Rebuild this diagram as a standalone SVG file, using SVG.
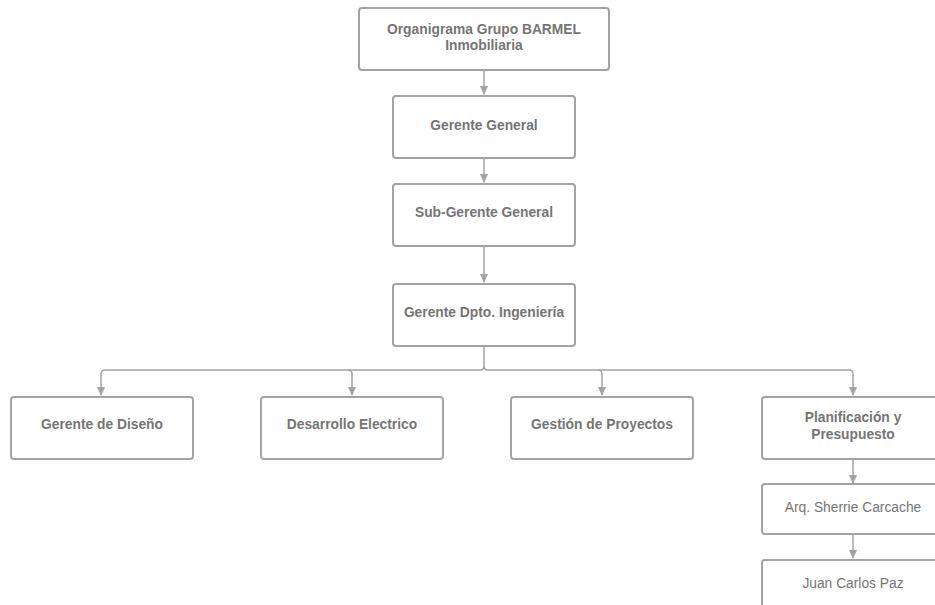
<svg xmlns="http://www.w3.org/2000/svg" width="935" height="605" viewBox="0 0 935 605">
<style>
.box{fill:#fff;stroke:#a3a3a3;stroke-width:2}
.t{font-family:"Liberation Sans",Arial,sans-serif;font-size:13.8px;fill:#757575;text-anchor:middle}
.b{font-weight:bold}
.c{fill:none;stroke:#a3a3a3;stroke-width:1.5}
</style>
<defs>
<marker id="ah" markerWidth="10" markerHeight="10" refX="8" refY="5" orient="auto" markerUnits="userSpaceOnUse">
<path d="M0,1 L9,5 L0,9 z" fill="#a3a3a3"/>
</marker>
</defs>
<rect width="935" height="605" fill="#fff"/>
<g id="connectors">
<path class="c" d="M484,70 V94" marker-end="url(#ah)"/>
<path class="c" d="M484,158 V182" marker-end="url(#ah)"/>
<path class="c" d="M484,246 V282" marker-end="url(#ah)"/>
<path class="c" d="M484,346 V366 Q484,370 480,370 H105 Q101,370 101,374 V395" marker-end="url(#ah)"/>
<path class="c" d="M484,366 Q484,370 488,370 H849 Q853,370 853,374 V395" marker-end="url(#ah)"/>
<path class="c" d="M348,370 Q352,370 352,374 V395" marker-end="url(#ah)"/>
<path class="c" d="M598,370 Q602,370 602,374 V395" marker-end="url(#ah)"/>
<path class="c" d="M853,459 V483" marker-end="url(#ah)"/>
<path class="c" d="M853,534 V558" marker-end="url(#ah)"/>
</g>
<g id="n0"><rect class="box" x="359" y="8" width="250" height="62" rx="3"/>
<text class="t b" x="484" y="34">Organigrama Grupo BARMEL</text><text class="t b" x="484" y="50">Inmobiliaria</text></g>
<g id="n1"><rect class="box" x="393" y="96" width="182" height="62" rx="3"/>
<text class="t b" x="484" y="130">Gerente General</text></g>
<g id="n2"><rect class="box" x="393" y="184" width="182" height="62" rx="3"/>
<text class="t b" x="484" y="217">Sub-Gerente General</text></g>
<g id="n3"><rect class="box" x="393" y="284" width="182" height="62" rx="3"/>
<text class="t b" x="484" y="317">Gerente Dpto. Ingeniería</text></g>
<g id="n4"><rect class="box" x="11" y="397" width="182" height="62" rx="3"/>
<text class="t b" x="102" y="429">Gerente de Diseño</text></g>
<g id="n5"><rect class="box" x="261" y="397" width="182" height="62" rx="3"/>
<text class="t b" x="352" y="429">Desarrollo Electrico</text></g>
<g id="n6"><rect class="box" x="511" y="397" width="182" height="62" rx="3"/>
<text class="t b" x="602" y="429">Gestión de Proyectos</text></g>
<g id="n7"><rect class="box" x="762" y="397" width="182" height="62" rx="3"/>
<text class="t b" x="853" y="422">Planificación y</text><text class="t b" x="853" y="439">Presupuesto</text></g>
<g id="n8"><rect class="box" x="762" y="484" width="182" height="50" rx="3"/>
<text class="t" x="853" y="512">Arq. Sherrie Carcache</text></g>
<g id="n9"><rect class="box" x="762" y="560" width="182" height="62" rx="3"/>
<text class="t" x="853" y="588">Juan Carlos Paz</text></g>
</svg>
